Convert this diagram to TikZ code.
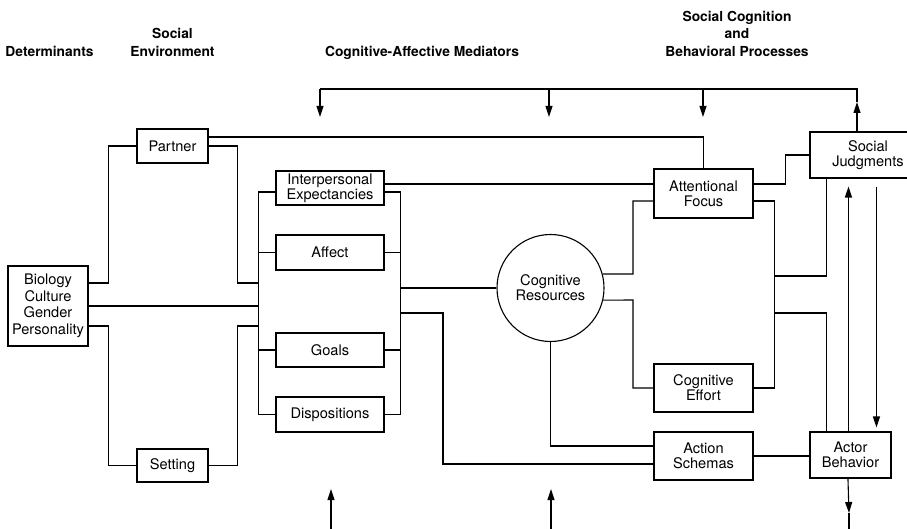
\documentclass[tikz,border=0pt]{standalone}
\usepackage{fontspec}
\setmainfont{TeX Gyre Heros}
\newfontfamily\headfont{TeX Gyre Heros}
\usetikzlibrary{arrows.meta,positioning,calc}
\begin{document}
\begin{tikzpicture}[x=1pt,y=-1pt,
  line width=1.1pt,
  arr/.style={-{Triangle[length=11pt,width=7pt]}},
  box/.style={draw,rectangle,inner sep=0pt,align=center,font=\fontsize{14.6}{15}\selectfont},
  circ/.style={draw,circle,inner sep=0pt,align=center,minimum size=107pt,font=\fontsize{14.6}{15}\selectfont},
  head/.style={inner sep=0pt,align=center,font=\headfont\bfseries\fontsize{13.8}{17.5}\selectfont}]
\useasboundingbox (0,0) rectangle (907,529);
% headings
\node[head,anchor=base] (hdet) at (49.5,57) {Determinants};
\node[head,anchor=south] (henv) at (172.5,57) {Social\\Environment};
\node[head,anchor=base] (hmed) at (422,57) {Cognitive-Affective Mediators};
\node[head,anchor=south] (hproc) at (737,57) {Social Cognition\\and\\Behavioral Processes};
% boxes
\node[box,minimum width=71pt,minimum height=34pt] (partner) at (172.5,146) {Partner};
\node[box,minimum width=71pt,minimum height=33pt] (setting) at (172.5,465.5) {Setting};
\node[box,minimum width=80pt,minimum height=80pt,font=\fontsize{14.6}{16.5}\selectfont] (bio) at (48,306) {Biology\\Culture\\Gender\\Personality};
\node[box,minimum width=108pt,minimum height=34pt,font=\fontsize{14.6}{12.5}\selectfont] (ie) at (330,188) {Interpersonal\\Expectancies};
\node[box,minimum width=108pt,minimum height=35pt] (affect) at (330,252.5) {Affect};
\node[box,minimum width=108pt,minimum height=34pt] (goals) at (330,350) {Goals};
\node[box,minimum width=108pt,minimum height=35pt] (disp) at (330,414.5) {Dispositions};
\node[circ] (cr) at (550.5,288) {Cognitive\\Resources};
\node[box,minimum width=99pt,minimum height=49pt] (att) at (703.5,193.5) {Attentional\\Focus};
\node[box,minimum width=99pt,minimum height=48pt] (ce) at (703.5,388) {Cognitive\\Effort};
\node[box,minimum width=99pt,minimum height=48pt] (as) at (703.5,456) {Action\\Schemas};
\node[box,minimum width=116pt,minimum height=46pt] (sj) at (868,155) {Social\\Judgments};
\node[box,minimum width=81pt,minimum height=46pt] (ab) at (850.5,455) {Actor\\Behavior};
% named free ends
\coordinate (lbA) at (259,283);
\coordinate (lbM) at (259,306);
\coordinate (lbC) at (259,326);
\coordinate (rbA) at (400,288);
\coordinate (rbB) at (400,313);
\coordinate (rb1) at (774,276);
\coordinate (rb2) at (774,313);
\coordinate (topR) at (857,89);
\coordinate (topL) at (320,89);
\coordinate (topM1) at (549,89);
\coordinate (topM2) at (703,89);
\coordinate (tipR) at (857,102);
\coordinate (tipL) at (320,117);
\coordinate (tipM1) at (549,117);
\coordinate (tipM2) at (703,117);
\coordinate (abTip) at (849,513);
\coordinate (abOut) at (849,530);
\coordinate (inA) at (331,530);
\coordinate (inAt) at (331,489);
\coordinate (inB) at (551,530);
\coordinate (inBt) at (551,489);
% determinants and environment
\draw ([yshift=23pt]bio.east) -- ++(20,0) |- (partner.west);
\draw (bio.east) -- (lbM);
\draw ([yshift=-20pt]bio.east) -- ++(20,0) |- (setting.west);
\draw (partner.east) -- ++(29,0) |- (lbA);
\draw (setting.east) -- ++(29,0) |- (lbC);
\draw ([yshift=9pt]partner.east) -| (att.north);
% mediator buses
\draw ([yshift=-4pt]ie.west) -- ++(-17,0) |- (disp.west);
\draw (affect.west) -- ++(-17,0);
\draw (goals.west) -- ++(-17,0);
\draw ([yshift=-4pt]ie.east) -- ++(16,0) |- (disp.east);
\draw (affect.east) -- ++(16,0);
\draw (goals.east) -- ++(16,0);
\draw ([yshift=4pt]ie.east) -- ([yshift=4pt]ie.east -| att.west);
\draw (rbA) -- (cr.west);
\draw (rbB) -- ++(43,0) |- ([yshift=-8pt]as.west);
% cognitive resources
\draw (cr.15) -- (633,274) |- ([yshift=-7.5pt]att.west);
\draw (cr.-13) -- (633,300) |- (ce.west);
\draw (cr.south) |- ([yshift=10pt]as.west);
% processes
\draw ([yshift=9.5pt]att.east) -- ++(32,0) |- (sj.west);
\draw ([yshift=-7.5pt]att.east) -- ++(21,0) |- (ce.east);
\draw (rb1) -| ([xshift=17pt]sj.south west);
\draw (rb2) -| ([xshift=17pt]ab.north west);
\draw (as.east) -- (as.east -| ab.west);
\draw[arr] ([xshift=39pt]ab.north west) -- ([xshift=39pt,yshift=-8pt]sj.south west);
\draw[arr] ([xshift=67pt,yshift=-8pt]sj.south west) -- ([xshift=67pt,yshift=4pt]ab.north west);
\draw[arr] ([xshift=38.5pt]ab.south west) -- (abTip);
\draw (abTip) -- (abOut);
% top feedback
\draw[arr] ([xshift=-11pt]sj.north) -- (tipR);
\draw (tipR) -- (topR) -- (topL);
\draw[arr] (topL) -- (tipL);
\draw[arr] (topM1) -- (tipM1);
\draw[arr] (topM2) -- (tipM2);
% bottom inputs
\draw[arr] (inA) -- (inAt);
\draw[arr] (inB) -- (inBt);
\end{tikzpicture}
\end{document}
